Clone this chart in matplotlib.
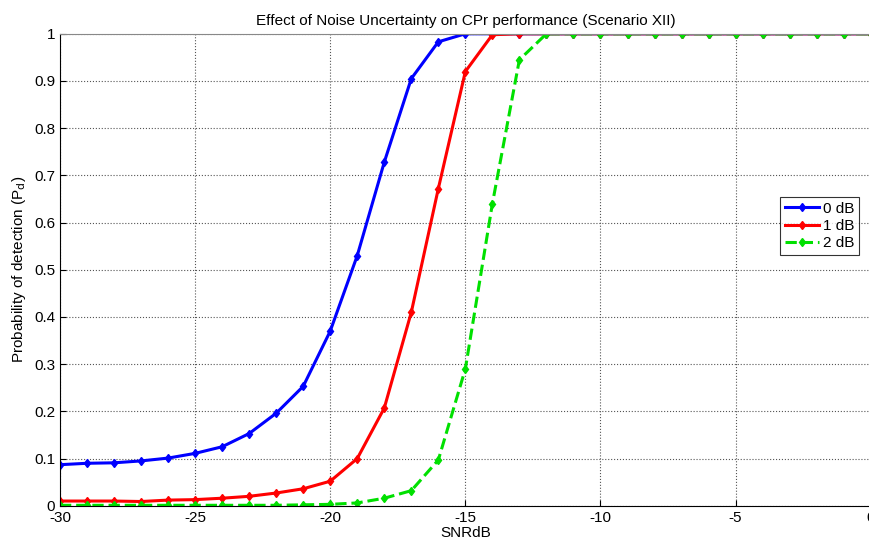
import numpy as np
import matplotlib
matplotlib.use('Agg')
import matplotlib.pyplot as plt

plt.rcParams['font.family'] = ['Liberation Sans', 'DejaVu Sans']
plt.rcParams['axes.unicode_minus'] = False

# data
snr = list(range(-30, 1))
pd_0db = [0.087, 0.090, 0.091, 0.095, 0.101, 0.111, 0.125, 0.153, 0.196, 0.253,
          0.370, 0.530, 0.728, 0.905, 0.983, 1.0, 1.0, 1.0, 1.0, 1.0,
          1.0, 1.0, 1.0, 1.0, 1.0, 1.0, 1.0, 1.0, 1.0, 1.0, 1.0]
pd_1db = [0.010, 0.010, 0.010, 0.009, 0.012, 0.013, 0.016, 0.020, 0.027, 0.036,
          0.052, 0.100, 0.207, 0.410, 0.672, 0.920, 0.998, 1.0, 1.0, 1.0,
          1.0, 1.0, 1.0, 1.0, 1.0, 1.0, 1.0, 1.0, 1.0, 1.0, 1.0]
pd_2db = [0.001, 0.001, 0.001, 0.001, 0.001, 0.001, 0.001, 0.001, 0.001, 0.002,
          0.003, 0.006, 0.016, 0.032, 0.097, 0.290, 0.640, 0.945, 1.0, 1.0,
          1.0, 1.0, 1.0, 1.0, 1.0, 1.0, 1.0, 1.0, 1.0, 1.0, 1.0]
labels = ['0 dB', '1 dB', '2 dB']

fig = plt.figure(figsize=(8.69, 5.45), dpi=100)
ax = fig.add_axes([0.069, 0.072, 0.933, 0.866])

ax.plot(snr, pd_0db, '-d', color='#0000ff', lw=2.2, ms=4.5, label=labels[0])
ax.plot(snr, pd_1db, '-d', color='#ff0000', lw=2.2, ms=4.5, label=labels[1])
ax.plot(snr, pd_2db, '--d', color='#00e000', lw=2.2, ms=4.5, label=labels[2])

ax.set_xlim(-30, 0)
ax.set_ylim(0, 1)
ax.set_xticks(range(-30, 1, 5))
ax.set_yticks(np.arange(0, 1.01, 0.1))
ax.set_yticklabels(['0', '0.1', '0.2', '0.3', '0.4', '0.5', '0.6', '0.7', '0.8', '0.9', '1'])
ax.grid(True, linestyle=':', color='#555555', lw=0.8)
ax.tick_params(direction='in', labelsize=11, length=4)
ax.spines['top'].set_color('#888888')

ax.set_title('Effect of Noise Uncertainty on CPr performance (Scenario XII)', fontsize=11)
ax.set_xlabel('SNRdB', fontsize=11, labelpad=1)
ax.set_ylabel('Probability of detection (P$_{\\mathrm{d}}$)', fontsize=11)

leg = ax.legend(loc='center right', bbox_to_anchor=(0.995, 0.593), fontsize=11,
                fancybox=False, edgecolor='black', handlelength=2.2,
                borderpad=0.3, labelspacing=0.2, handletextpad=0.3)
leg.get_frame().set_linewidth(0.8)

fig.savefig('out.png', dpi=100)
